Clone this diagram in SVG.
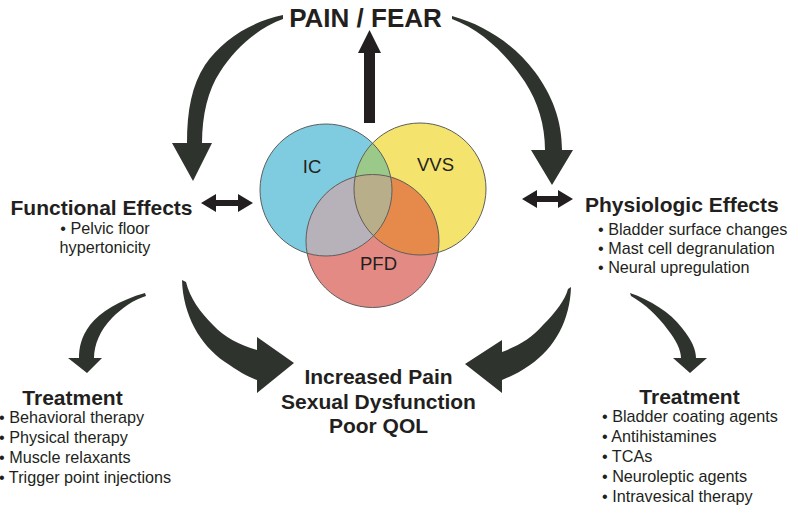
<svg xmlns="http://www.w3.org/2000/svg" width="790" height="508" viewBox="0 0 790 508">
  <style>
    text { font-family: "Liberation Sans", Arial, Helvetica, sans-serif; fill: #231f20; }
    .title { font-size: 26px; font-weight: bold; }
    .head { font-size: 21px; font-weight: bold; }
    .item { font-size: 16.2px; }
    .venn { font-size: 18.5px; }
    .curve { fill: #2f332e; }
    .straight { fill: #231f20; }
    .ring { fill: none; stroke: #5e5e5e; stroke-width: 1; }
  </style>
  <defs>
    <circle id="c-ic" cx="326" cy="190" r="66"/>
    <circle id="c-vvs" cx="420" cy="189" r="66"/>
    <circle id="c-pfd" cx="372.5" cy="241" r="66.5"/>
    <clipPath id="clip-ic"><use href="#c-ic"/></clipPath>
    <clipPath id="clip-vvs"><use href="#c-vvs"/></clipPath>
  </defs>

  <rect width="790" height="508" fill="#ffffff"/>

  <!-- connectors -->
  <g id="connectors">
    <!-- Venn up to PAIN / FEAR -->
    <path class="straight" d="M364,123 L364,53 L358,53 L369.5,30 L381,53 L375,53 L375,123 Z"/>
    <!-- PAIN / FEAR to Functional Effects -->
    <path class="curve" d="M283,15 C250,22 222,40 205,65 C192,85 187,110 187,143 L172,143 L193,181 L212,143 L202,143 C202,115 208,90 220,72 C235,48 258,28 283,19 Z"/>
    <!-- PAIN / FEAR to Physiologic Effects -->
    <path class="curve" d="M452,16 C485,25 515,45 535,72 C552,95 562,120 562,150 L573,150 L552,185 L531,150 L545,150 C545,125 538,102 525,82 C508,56 482,30 452,19 Z"/>
    <!-- Functional Effects <-> Venn -->
    <path class="straight" d="M201,203 L216,194 L216,200 L238,200 L238,194 L253,203 L238,212 L238,206 L216,206 L216,212 Z"/>
    <!-- Venn <-> Physiologic Effects -->
    <path class="straight" d="M522,199 L537,190 L537,196 L558,196 L558,190 L573,199 L558,208 L558,202 L537,202 L537,208 Z"/>
    <!-- Functional Effects to Treatment -->
    <path class="curve" d="M145,293 C120,300 100,312 90,325 C81,337 79,348 79,358 L68,358 L87,373 L102,358 L94,358 C94,345 100,330 112,318 C122,308 133,300 146,296 Z"/>
    <!-- Functional Effects to outcomes -->
    <path class="curve" d="M182,280 C183,315 200,345 225,362 C238,371 248,377 257,380 L257,393 L294,363 L257,337 L257,350 C240,345 225,338 213,325 C200,312 190,298 186,282 Z"/>
    <!-- Physiologic Effects to outcomes -->
    <path class="curve" d="M571,287 C570,320 555,348 530,365 C520,372 510,377 502,380 L502,393 L465,364 L502,340 L502,352 C518,346 532,338 543,325 C556,312 565,300 568,289 Z"/>
    <!-- Physiologic Effects to Treatment -->
    <path class="curve" d="M630,293 C650,300 670,312 682,328 C692,340 696,350 696,358 L707,358 L690,373 L673,358 L681,358 C681,350 676,340 668,330 C658,316 645,304 631,296 Z"/>
  </g>

  <g id="node-pain-fear">
    <text class="title" x="365.5" y="27" text-anchor="middle">PAIN / FEAR</text>
  </g>

  <!-- three overlapping conditions -->
  <g id="node-venn">
    <use href="#c-ic" fill="#7fcbdf"/>
    <use href="#c-vvs" fill="#f4e36c"/>
    <use href="#c-pfd" fill="#e38a84"/>
    <use href="#c-vvs" fill="#9ac98a" clip-path="url(#clip-ic)"/>
    <use href="#c-pfd" fill="#b7b2b9" clip-path="url(#clip-ic)"/>
    <use href="#c-pfd" fill="#e58a4a" clip-path="url(#clip-vvs)"/>
    <g clip-path="url(#clip-vvs)">
      <use href="#c-pfd" fill="#b9ae8a" clip-path="url(#clip-ic)"/>
    </g>
    <use href="#c-ic" class="ring"/>
    <use href="#c-vvs" class="ring"/>
    <use href="#c-pfd" class="ring"/>
    <text class="venn" x="312" y="173" text-anchor="middle">IC</text>
    <text class="venn" x="435.5" y="171" text-anchor="middle">VVS</text>
    <text class="venn" x="378.5" y="270" text-anchor="middle">PFD</text>
  </g>

  <g id="node-functional">
    <text class="head" x="101.5" y="215" text-anchor="middle">Functional Effects</text>
    <text class="item" x="105" y="234" text-anchor="middle">• Pelvic floor</text>
    <text class="item" x="105" y="253" text-anchor="middle">hypertonicity</text>
  </g>

  <g id="node-physiologic">
    <text class="head" x="585" y="212">Physiologic Effects</text>
    <text class="item" x="598" y="235">• Bladder surface changes</text>
    <text class="item" x="598" y="254">• Mast cell degranulation</text>
    <text class="item" x="598" y="273">• Neural upregulation</text>
  </g>

  <g id="node-outcomes">
    <text class="head" x="378.5" y="384" text-anchor="middle">Increased Pain</text>
    <text class="head" x="378.5" y="408.5" text-anchor="middle">Sexual Dysfunction</text>
    <text class="head" x="378.5" y="433" text-anchor="middle">Poor QOL</text>
  </g>

  <g id="node-treatment-functional">
    <text class="head" x="72.5" y="405" text-anchor="middle">Treatment</text>
    <text class="item" x="-1" y="423">• Behavioral therapy</text>
    <text class="item" x="-1" y="443">• Physical therapy</text>
    <text class="item" x="-1" y="463">• Muscle relaxants</text>
    <text class="item" x="-1" y="483">• Trigger point injections</text>
  </g>

  <g id="node-treatment-physiologic">
    <text class="head" x="689.5" y="404" text-anchor="middle">Treatment</text>
    <text class="item" x="602" y="422">• Bladder coating agents</text>
    <text class="item" x="602" y="442">• Antihistamines</text>
    <text class="item" x="602" y="462">• TCAs</text>
    <text class="item" x="602" y="482">• Neuroleptic agents</text>
    <text class="item" x="602" y="502">• Intravesical therapy</text>
  </g>
</svg>
